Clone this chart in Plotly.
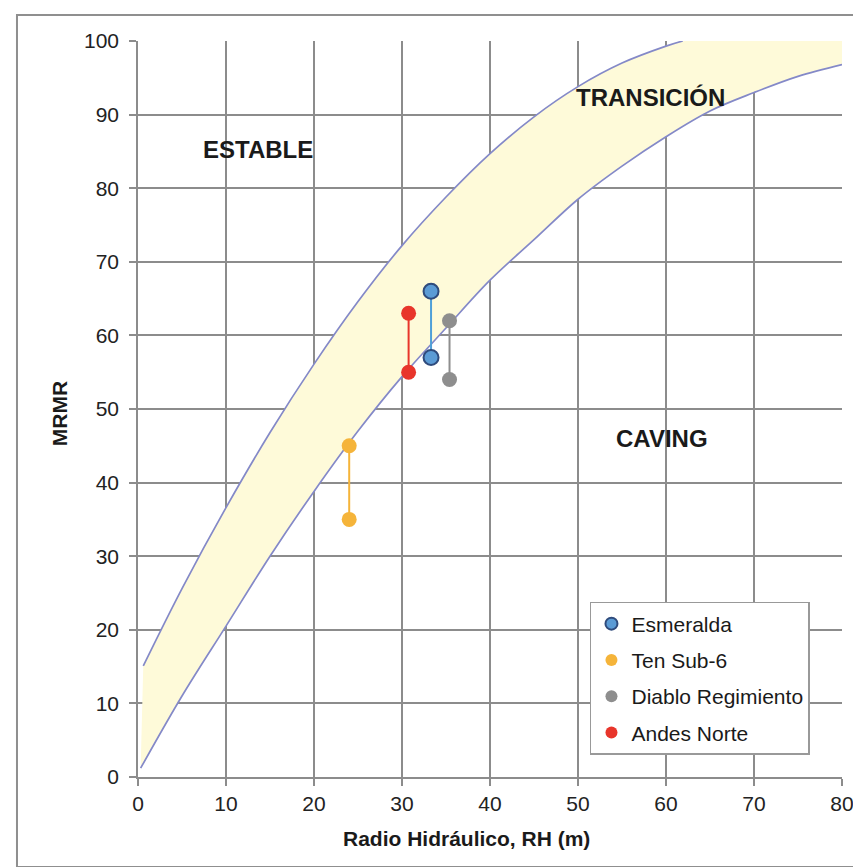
import plotly.graph_objects as go

# ---- data ----
lower_rh = [0.3, 5, 10, 15, 20, 25, 30, 35, 40, 45, 50, 55, 60, 65, 70, 75, 80]
lower_mrmr = [1.2, 11, 20.5, 30, 38.8, 47, 54.4, 61, 67.5, 73, 78.5, 83, 87, 90.5, 93, 95.2, 96.8]
upper_rh = [0.6, 5, 10, 15, 20, 25, 30, 35, 40, 45, 50, 55, 60, 61.9]
upper_mrmr = [15.1, 25.6, 36.6, 46.8, 56.1, 64.6, 72.2, 78.8, 84.7, 89.7, 93.8, 97.0, 99.3, 100]

series = ["Esmeralda", "Ten Sub-6", "Diablo Regimiento", "Andes Norte"]
series_rh = [33.3, 24.0, 35.4, 30.75]
mrmr_high = [66, 45, 62, 63]
mrmr_low = [57, 35, 54, 55]
marker_colors = ["#5b9bd5", "#f5b43a", "#8e8e8e", "#e8352b"]
line_colors = ["#4f9fd8", "#f5b43a", "#8e8e8e", "#e8352b"]
marker_lines = ["#2f4b7c", "#f5b43a", "#8e8e8e", "#e8352b"]

x_ticks = [0, 10, 20, 30, 40, 50, 60, 70, 80]
y_ticks = [0, 10, 20, 30, 40, 50, 60, 70, 80, 90, 100]

region_labels = ["ESTABLE", "TRANSICIÓN", "CAVING"]
region_x = [13.6, 58.2, 59.5]
region_y = [85.2, 92.3, 46]

FONT = "Arial, Liberation Sans, sans-serif"
CURVE = "#8489c8"
FILL = "rgba(254,250,217,1)"
GRID = "#8c8c8c"
TXT = "#1a1a1a"

fig = go.Figure()

# transition band fill (lower curve, then upper boundary closed to the top-right corner)
fig.add_trace(go.Scatter(x=lower_rh, y=lower_mrmr, mode="lines",
                         line=dict(color="rgba(0,0,0,0)", width=0, shape="spline"),
                         showlegend=False, hoverinfo="skip"))
fig.add_trace(go.Scatter(x=upper_rh + [80], y=upper_mrmr + [100], mode="lines",
                         line=dict(color="rgba(0,0,0,0)", width=0, shape="spline"),
                         fill="tonexty", fillcolor=FILL,
                         showlegend=False, hoverinfo="skip"))

# boundary curves
fig.add_trace(go.Scatter(x=lower_rh, y=lower_mrmr, mode="lines",
                         line=dict(color=CURVE, width=1.7, shape="spline"),
                         showlegend=False, hoverinfo="skip"))
fig.add_trace(go.Scatter(x=upper_rh, y=upper_mrmr, mode="lines",
                         line=dict(color=CURVE, width=1.7, shape="spline"),
                         showlegend=False, hoverinfo="skip"))

# series: vertical range lines + markers
for i, name in enumerate(series):
    fig.add_trace(go.Scatter(x=[series_rh[i], series_rh[i]], y=[mrmr_low[i], mrmr_high[i]],
                             mode="lines", line=dict(color=line_colors[i], width=2),
                             showlegend=False, hoverinfo="skip"))
for i, name in enumerate(series):
    fig.add_trace(go.Scatter(x=[series_rh[i], series_rh[i]], y=[mrmr_low[i], mrmr_high[i]],
                             mode="markers", name=name, legendgroup=name,
                             marker=dict(size=15, color=marker_colors[i],
                                         line=dict(color=marker_lines[i], width=2 if i == 0 else 0))))

for t, x, y in zip(region_labels, region_x, region_y):
    fig.add_annotation(x=x, y=y, text="<b>" + t + "</b>", showarrow=False,
                       font=dict(family=FONT, size=24, color=TXT))

# axis titles
fig.add_annotation(xref="paper", yref="paper", x=0.467, y=-0.083,
                   xanchor="center", yanchor="middle",
                   text="<b>Radio Hidráulico, RH (m)</b>", showarrow=False,
                   font=dict(family=FONT, size=21, color=TXT))
fig.add_annotation(xref="paper", yref="paper", x=-0.111, y=0.494,
                   xanchor="center", yanchor="middle",
                   text="<b>MRMR</b>", showarrow=False, textangle=-90,
                   font=dict(family=FONT, size=21, color=TXT))

# outer frame
fig.add_shape(type="rect", xref="paper", yref="paper",
              x0=-0.1719, x1=1.0384, y0=-0.1223, y1=1.0353,
              line=dict(color="#8f8f8f", width=2), fillcolor="rgba(0,0,0,0)", layer="above")

axis_common = dict(showgrid=True, gridcolor=GRID, gridwidth=1.6,
                   showline=True, linecolor=GRID, linewidth=1.6,
                   ticks="outside", ticklen=7, tickcolor=GRID, tickwidth=1.6,
                   zeroline=False, tickfont=dict(family=FONT, size=21, color="#222"))
fig.update_xaxes(range=[0, 80], tickvals=x_ticks, ticktext=[str(v) for v in x_ticks],
                 **axis_common)
fig.update_yaxes(range=[0, 100], tickvals=y_ticks, ticktext=[str(v) for v in y_ticks],
                 ticklabelstandoff=6, **axis_common)

fig.update_layout(
    width=861, height=867,
    margin=dict(l=130, r=27, t=33, b=98),
    paper_bgcolor="white", plot_bgcolor="white",
    font=dict(family=FONT, color="#222"),
    legend=dict(x=0.642, y=0.2378, xanchor="left", yanchor="top",
                bgcolor="white", bordercolor="#999999", borderwidth=1.5,
                font=dict(family=FONT, size=21, color=TXT),
                traceorder="grouped", tracegroupgap=6,
                itemsizing="constant", itemwidth=30),
)

fig.write_html("out.html")
